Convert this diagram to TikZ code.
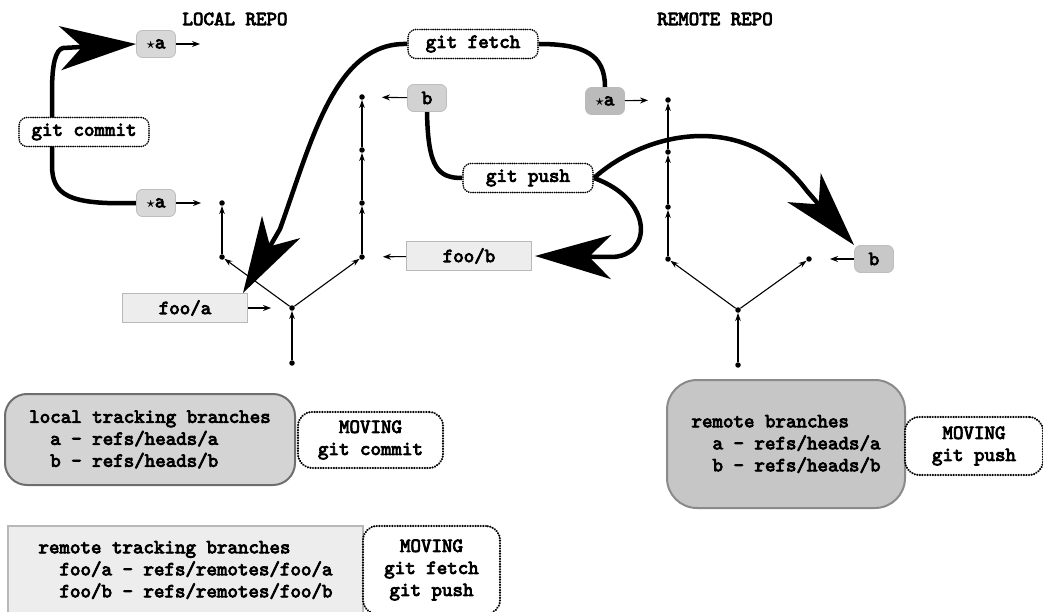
\documentclass[tikz,border=0pt]{standalone}
\usepackage{fontspec}
\newfontfamily\cmono{lmmono10-regular.otf}[FakeBold=4]
\usepackage{amsmath,bm}
\usetikzlibrary{arrows.meta,calc}
\pgfdeclarelayer{bg}
\pgfsetlayers{bg,main}
\definecolor{refA}{HTML}{D8D8D8}
\definecolor{refB}{HTML}{BBBBBB}
\definecolor{refC}{HTML}{C8C8C8}
\definecolor{refD}{HTML}{D2D2D2}
\definecolor{refdraw}{HTML}{BDBDBD}
\definecolor{locfill}{HTML}{D4D4D4}
\definecolor{locdraw}{HTML}{6E6E6E}
\definecolor{remfill}{HTML}{C6C6C6}
\definecolor{remdraw}{HTML}{8A8A8A}
\definecolor{trkfill}{HTML}{EDEDED}
\definecolor{trkdraw}{HTML}{B8B8B8}
\newcommand\mystar{$\scriptstyle\bm{\star}$}
\tikzset{
  txt/.style={font=\cmono\fontsize{20}{22}\selectfont},
  refnode/.style={txt, rounded corners=6pt, fill=refA, draw=refdraw, line width=0.8pt,
    minimum width=39pt, minimum height=27pt, inner sep=0pt},
  cmd/.style={txt, rounded corners=8pt, fill=white, draw, line width=1.8pt,
    line cap=round, dash pattern=on 0.1pt off 2.1pt, minimum width=130pt, minimum height=29pt, inner sep=0pt},
  trk/.style={txt, fill=trkfill, draw=trkdraw, line width=1pt,
    minimum width=125pt, minimum height=29pt, inner sep=0pt},
  movbox/.style={txt, align=center, rounded corners=14pt, fill=white, draw, line width=2.3pt,
    line cap=round, dash pattern=on 0.1pt off 2.5pt, inner sep=0pt},
  cdot/.style={circle, fill=black, inner sep=0pt, minimum size=5.5pt},
  gedge/.style={-{Stealth[length=8pt,width=5.5pt]}, line width=1.1pt},
  larr/.style={-{Stealth[length=8pt,width=6pt]}, line width=1.1pt},
  heavy/.style={line width=4.5pt},
  bigarrow/.style={line width=4.5pt, -{Stealth[length=76pt,width=44pt,inset=22pt]}},
}
\begin{document}
\begin{tikzpicture}[x=1pt,y=-1pt]
\useasboundingbox (0,0) rectangle (1043,612);

% titles
\node[txt] (t1) at (235,19) {LOCAL REPO};
\node[txt] (t2) at (715,19) {REMOTE REPO};

% local commit graph
\node[cdot] (r0) at (292,363) {};
\node[cdot] (r1) at (292,308) {};
\node[cdot] (L1) at (222,257) {};
\node[cdot] (L2) at (222,203) {};
\node[cdot] (R1) at (362,257) {};
\node[cdot] (R2) at (362,203) {};
\node[cdot] (R3) at (362,150) {};
\node[cdot] (R4) at (362,97) {};
\draw[gedge] (r0) -- (r1);
\draw[gedge] (r1) -- (L1);
\draw[gedge] (L1) -- (L2);
\draw[gedge] (r1) -- (R1);
\draw[gedge] (R1) -- (R2);
\draw[gedge] (R2) -- (R3);
\draw[gedge] (R3) -- (R4);

% remote commit graph
\node[cdot] (q0) at (738,365) {};
\node[cdot] (q1) at (738,310) {};
\node[cdot] (Q1) at (668,259) {};
\node[cdot] (Q2) at (668,207) {};
\node[cdot] (Q3) at (668,152) {};
\node[cdot] (Q4) at (668,100) {};
\node[cdot] (QR) at (809,259) {};
\draw[gedge] (q0) -- (q1);
\draw[gedge] (q1) -- (Q1);
\draw[gedge] (Q1) -- (Q2);
\draw[gedge] (Q2) -- (Q3);
\draw[gedge] (Q3) -- (Q4);
\draw[gedge] (q1) -- (QR);

% ref labels
\node[refnode] (sa1) at (156,44) {\mystar a};
\coordinate (e1) at (200,44);
\draw[larr] (sa1) -- (e1);
\node[refnode] (sa2) at (156,203) {\mystar a};
\draw[larr, shorten >=18pt] (sa2) -- (L2);
\node[refnode, fill=refD] (lb) at (427,98) {b};
\draw[larr, shorten >=17pt] (lb) -- (R4);
\node[refnode, fill=refB, draw=refB] (ra) at (605,101) {\mystar a};
\draw[larr, shorten >=17pt] (ra) -- (Q4);
\node[refnode, fill=refC] (rb) at (874,259) {b};
\draw[larr, shorten >=18pt] (rb) -- (QR);
\node[trk] (fa) at (185,308) {foo/a};
\draw[larr, shorten >=18pt] (fa) -- (r1);
\node[trk] (fb) at (469,256) {foo/b};
\draw[larr, shorten >=18pt] (fb) -- (R1);

% command labels
\node[cmd] (gc) at (84,132) {git commit};
\node[cmd] (gf) at (473,44) {git fetch};
\node[cmd] (gp) at (528,178) {git push};

% big curved arrows
\begin{pgfonlayer}{bg}
\draw[bigarrow] (sa2.west) .. controls (68,205) and (52,195) .. (52,165) -- (52,92)
  .. controls (52,62) and (56,50) .. (63,48) -- (sa1.west);
\draw[heavy] (ra.north) .. controls (605,55) and (585,44) .. (gf.east);
\draw[bigarrow] (gf.west) .. controls (335,42) and (312,140) .. (280,229) -- ([xshift=-5pt]fa.north east);
\draw[heavy] (lb.south) .. controls (428,168) and (438,178) .. (gp.west);
\draw[bigarrow] (gp.east) .. controls (645,132) and (745,108) .. (807,191) -- (rb.north west);
\draw[bigarrow] (gp.east) .. controls (655,200) and (652,257) .. (611,257) -- ([xshift=3pt]fb.east);
\end{pgfonlayer}

% legend boxes
\node[txt, align=left, rounded corners=22pt, fill=locfill, draw=locdraw, line width=2pt,
  minimum width=290pt, minimum height=91pt, inner sep=0pt] (ltb) at (150,439.5)
  {local tracking branches\\\phantom{xx}a - refs/heads/a\\\phantom{xx}b - refs/heads/b};
\node[movbox, minimum width=145pt, minimum height=56pt] (m1) at (370.5,440) {MOVING\\git commit};
\node[txt, align=left, fill=trkfill, draw=trkdraw, line width=2pt,
  minimum width=355pt, minimum height=88pt, inner sep=0pt] (rtb) at (185.5,570)
  {remote tracking branches\\\phantom{xx}foo/a - refs/remotes/foo/a\\\phantom{xx}foo/b - refs/remotes/foo/b};
\node[movbox, minimum width=137pt, minimum height=88pt] (m2) at (431.5,570) {MOVING\\git fetch\\git push};
\node[txt, align=left, rounded corners=30pt, fill=remfill, draw=remdraw, line width=2pt,
  minimum width=238pt, minimum height=128pt, inner sep=0pt] (rbr) at (786,444)
  {remote branches\\\phantom{xx}a - refs/heads/a\\\phantom{xx}b - refs/heads/b};
\node[movbox, minimum width=138pt, minimum height=58pt] (m3) at (974,446) {MOVING\\git push};
\end{tikzpicture}
\end{document}
